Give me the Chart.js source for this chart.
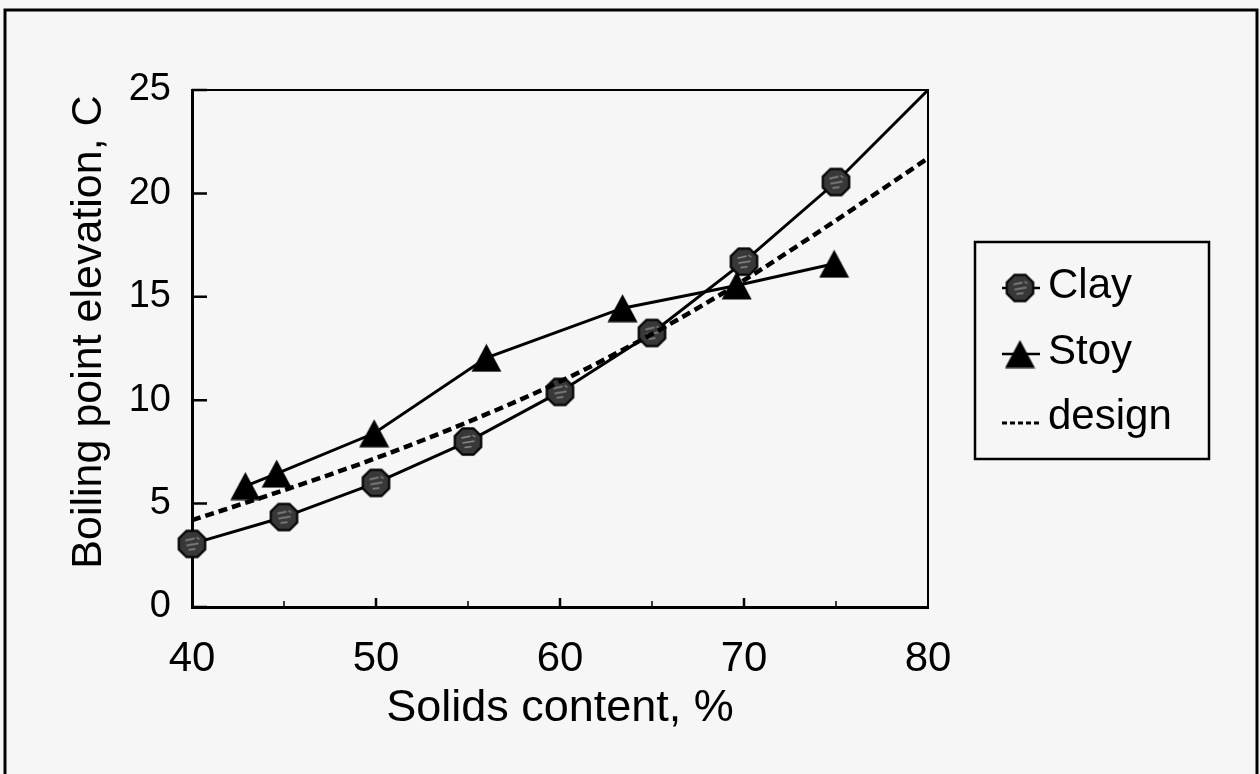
<!DOCTYPE html>
<html><head><meta charset="utf-8">
<script src="https://cdn.jsdelivr.net/npm/chart.js@4.4.0/dist/chart.umd.min.js"></script>
<style>html,body{margin:0;padding:0;background:#f6f6f6;overflow:hidden;}</style>
</head><body>
<canvas id="c" width="1260" height="774"></canvas>
<script>
// ---- data ----
const clayX = [40, 45, 50, 55, 60, 65, 70, 75, 80];
const clayY = [3.05, 4.35, 6.0, 8.0, 10.4, 13.25, 16.7, 20.55, 25.0];
const stoyX = [42.9, 44.6, 49.9, 56.0, 63.4, 69.6, 74.9];
const stoyY = [5.85, 6.45, 8.4, 12.05, 14.45, 15.55, 16.6];
const designX = [40, 45, 50, 55, 60, 65, 70, 75, 80];
const designY = [4.2, 5.65, 7.2, 8.95, 10.9, 13.2, 15.8, 18.7, 21.7];
const xTickLabels = [40, 50, 60, 70, 80];
const xMinorTicks = [45, 55, 65, 75];
const xMajorInner = [50, 60, 70];
const yTickLabels = [0, 5, 10, 15, 20, 25];
const seriesNames = ['Clay', 'Stoy', 'design'];
const xTitle = 'Solids content, %';
const yTitle = 'Boiling point elevation, C';

const FONT = '"Liberation Sans", Arial, Helvetica, sans-serif';
const toXY = (xs, ys) => xs.map((x, i) => ({x: x, y: ys[i]}));

// marker images
function makeOctagon() {
  const c = document.createElement('canvas'); c.width = 31; c.height = 31;
  const g = c.getContext('2d');
  g.beginPath();
  for (let i = 0; i < 8; i++) {
    const a = Math.PI / 8 + i * Math.PI / 4;
    const px = 15.5 + 14.3 * Math.cos(a), py = 15.5 + 14.3 * Math.sin(a);
    if (i === 0) g.moveTo(px, py); else g.lineTo(px, py);
  }
  g.closePath();
  g.fillStyle = '#383838'; g.fill();
  g.lineWidth = 2.2; g.strokeStyle = '#000'; g.stroke();
  g.strokeStyle = '#8c8c8c'; g.lineWidth = 1.3;
  g.beginPath();
  g.moveTo(9, 12); g.lineTo(18, 10); g.moveTo(10, 17); g.lineTo(22, 15);
  g.moveTo(12, 21.5); g.lineTo(19, 20.5); g.moveTo(20, 9); g.lineTo(23, 11);
  g.stroke();
  return c;
}
function makeTriangle() {
  const c = document.createElement('canvas'); c.width = 31; c.height = 29;
  const g = c.getContext('2d');
  g.beginPath(); g.moveTo(15.5, 0.5); g.lineTo(30.5, 28.5); g.lineTo(0.5, 28.5); g.closePath();
  g.fillStyle = '#000'; g.fill();
  return c;
}
const octImg = makeOctagon();
const triImg = makeTriangle();

const framePlugin = {
  id: 'frame',
  beforeDraw(chart) {
    const ctx = chart.ctx;
    ctx.save();
    ctx.fillStyle = '#f6f6f6';
    ctx.fillRect(0, 0, chart.width, chart.height);
    ctx.strokeStyle = '#000'; ctx.lineWidth = 3;
    ctx.strokeRect(5, 10, 1252, 780);
    ctx.restore();
  },
  afterDraw(chart) {
    const ctx = chart.ctx, a = chart.chartArea;
    const xs = chart.scales.x, ys = chart.scales.y;
    ctx.save();
    ctx.strokeStyle = '#000';
    // top and right of plot box
    ctx.lineWidth = 2;
    ctx.beginPath();
    ctx.moveTo(a.left, a.top); ctx.lineTo(a.right, a.top); ctx.lineTo(a.right, a.bottom);
    ctx.stroke();
    // inward ticks
    ctx.lineWidth = 2.5;
    ctx.beginPath();
    yTickLabels.forEach(v => {
      const py = ys.getPixelForValue(v);
      ctx.moveTo(a.left, py); ctx.lineTo(a.left + 15, py);
    });
    xMajorInner.forEach(v => {
      const px = xs.getPixelForValue(v);
      ctx.moveTo(px, a.bottom); ctx.lineTo(px, a.bottom - 9);
    });
    ctx.stroke();
    ctx.lineWidth = 1.5;
    ctx.beginPath();
    xMinorTicks.forEach(v => {
      const px = xs.getPixelForValue(v);
      ctx.moveTo(px, a.bottom); ctx.lineTo(px, a.bottom - 6);
    });
    ctx.stroke();

    // y axis title (rotated), placed like the reference
    ctx.save();
    ctx.translate(89, 332);
    ctx.rotate(-Math.PI / 2);
    ctx.font = '43px ' + FONT;
    ctx.fillStyle = '#000';
    ctx.textAlign = 'center';
    ctx.textBaseline = 'middle';
    ctx.fillText(yTitle, 0, 0);
    ctx.restore();

    // legend box
    const L = {x: 975, y: 242, w: 234, h: 217};
    ctx.lineWidth = 2.5;
    ctx.strokeRect(L.x, L.y, L.w, L.h);
    const rows = [286, 352, 417];
    ctx.font = '42px ' + FONT;
    ctx.fillStyle = '#000';
    ctx.textBaseline = 'middle';
    ctx.textAlign = 'left';
    chart.data.datasets.forEach((ds, i) => {
      const cy = rows[i];
      ctx.save();
      ctx.strokeStyle = ds.borderColor;
      if (i < 2) {
        ctx.lineWidth = 2.5;
        ctx.beginPath(); ctx.moveTo(1002, cy + 2); ctx.lineTo(1040, cy + 2); ctx.stroke();
        const img = ds.pointStyle;
        ctx.drawImage(img, 1020 - img.width / 2, cy + 2 - img.height / 2);
      } else {
        ctx.lineWidth = 3;
        ctx.setLineDash([5, 3]);
        ctx.beginPath(); ctx.moveTo(1002, cy + 6); ctx.lineTo(1040, cy + 6); ctx.stroke();
      }
      ctx.restore();
      ctx.fillText(ds.label, 1048, cy);
    });
    ctx.restore();
  }
};

new Chart(document.getElementById('c'), {
  type: 'line',
  data: {
    datasets: [
      {
        label: seriesNames[0], data: toXY(clayX, clayY),
        borderColor: '#000', borderWidth: 3, pointStyle: octImg,
        pointRadius: ctx => (ctx.raw && ctx.raw.x >= 80 ? 0 : 14),
        tension: 0, clip: false, order: 3
      },
      {
        label: seriesNames[1], data: toXY(stoyX, stoyY),
        borderColor: '#000', borderWidth: 3, pointStyle: triImg, pointRadius: 14,
        tension: 0, clip: false, order: 2
      },
      {
        label: seriesNames[2], data: toXY(designX, designY),
        borderColor: '#000', borderWidth: 4.5, borderDash: [9, 5], pointRadius: 0,
        cubicInterpolationMode: 'monotone', order: 1
      }
    ]
  },
  options: {
    responsive: false, animation: false, devicePixelRatio: 1,
    layout: {padding: {left: 58, top: 90, right: 332, bottom: 30}},
    plugins: {legend: {display: false}, tooltip: {enabled: false}},
    scales: {
      x: {
        type: 'linear', min: 40, max: 80, position: 'bottom',
        afterBuildTicks: s => { s.ticks = xTickLabels.map(v => ({value: v})); },
        afterFit: s => { s.height = 774 - 30 - 607; },
        grid: {display: false, drawTicks: false},
        border: {display: true, color: '#000', width: 3},
        ticks: {color: '#000', font: {family: FONT, size: 42}, padding: 27, maxRotation: 0},
        title: {display: true, text: xTitle, color: '#000', font: {family: FONT, size: 45}, padding: {top: 0, bottom: 8}}
      },
      y: {
        type: 'linear', min: 0, max: 25,
        afterBuildTicks: s => { s.ticks = yTickLabels.map(v => ({value: v})); },
        afterFit: s => { s.width = 192 - 58; },
        grid: {display: false, drawTicks: false},
        border: {display: true, color: '#000', width: 3},
        ticks: {color: '#000', font: {family: FONT, size: 38}, padding: 21},
        title: {display: false, text: yTitle}
      }
    }
  },
  plugins: [framePlugin]
});
</script>
</body></html>
